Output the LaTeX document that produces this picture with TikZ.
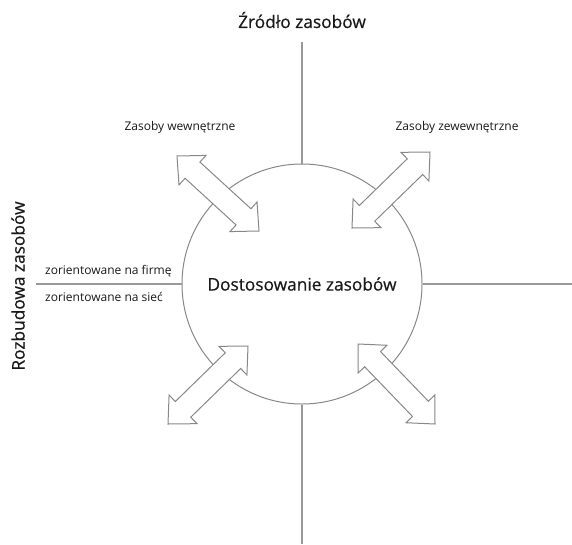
\documentclass[tikz,border=0pt]{standalone}
\usepackage{fontspec}
\setmainfont{Open Sans}
\newfontfamily\titlefont[FakeBold=0.5]{Open Sans}
\usetikzlibrary{calc}
\definecolor{axisgray}{HTML}{999999}
\definecolor{shapegray}{HTML}{888888}
\definecolor{txt}{HTML}{1A1A1A}
\tikzset{
  axisline/.style={draw=axisgray, line width=1.5pt},
  hub/.style={circle, draw=shapegray, line width=1pt, fill=white, minimum size=240pt, inner sep=0pt, font=\titlefont\fontsize{17.3}{20}\selectfont, text=txt},
  bigtitle/.style={font=\titlefont\fontsize{17.3}{20}\selectfont, text=txt, inner sep=0pt},
  smalltxt/.style={font=\fontsize{12}{14}\selectfont, text=txt, inner sep=0pt},
  arr/.style={draw=shapegray, line width=1pt, fill=white, line join=miter},
}
\newcommand\dblarr[2]{%
  \path ($(#1)!21pt!(#2)$) coordinate (h1) ($(#2)!21pt!(#1)$) coordinate (h2);
  \draw[arr] (#1) -- ($(h1)!20pt!90:(#2)$) -- ($(h1)!11pt!90:(#2)$)
    -- ($(h2)!11pt!-90:(#1)$) -- ($(h2)!20pt!-90:(#1)$) -- (#2)
    -- ($(h2)!20pt!90:(#1)$) -- ($(h2)!11pt!90:(#1)$)
    -- ($(h1)!11pt!-90:(#2)$) -- ($(h1)!20pt!-90:(#2)$) -- cycle;}
\begin{document}
\begin{tikzpicture}[x=1pt, y=-1pt]
\useasboundingbox (0,0) rectangle (572,544);
\fill[white] (0,0) rectangle (572,544);
% axes ends
\coordinate (topend) at (302,42);
\coordinate (botend) at (302,544);
\coordinate (leftend) at (36,284);
\coordinate (rightend) at (572,284);
% hub
\node[hub] (c) at (302,284) {Dostosowanie zasobów};
\draw[axisline] (topend) -- (c.north);
\draw[axisline] (c.south) -- (botend);
\draw[axisline] (leftend) -- (c.west);
\draw[axisline] (c.east) -- (rightend);
% arrows
\coordinate (a1s) at (177,156); \coordinate (a1e) at (259,231);
\coordinate (a2s) at (430,152); \coordinate (a2e) at (352,228);
\coordinate (a3s) at (248,346); \coordinate (a3e) at (168,424);
\coordinate (a4s) at (358,344); \coordinate (a4e) at (435,424);
\dblarr{a1s}{a1e}
\dblarr{a2s}{a2e}
\dblarr{a3s}{a3e}
\dblarr{a4s}{a4e}
% labels
\node[bigtitle] (t1) at (302,20) {Źródło zasobów};
\node[bigtitle, rotate=90] (t2) at (18,286) {Rozbudowa zasobów};
\node[smalltxt] (l1) at (180,127) {Zasoby wewnętrzne};
\node[smalltxt] (l2) at (457,127) {Zasoby zewewnętrzne};
\node[smalltxt, anchor=west] (l3) at (45,271) {zorientowane na firmę};
\node[smalltxt, anchor=west] (l4) at (45,297) {zorientowane na sieć};
\end{tikzpicture}
\end{document}
